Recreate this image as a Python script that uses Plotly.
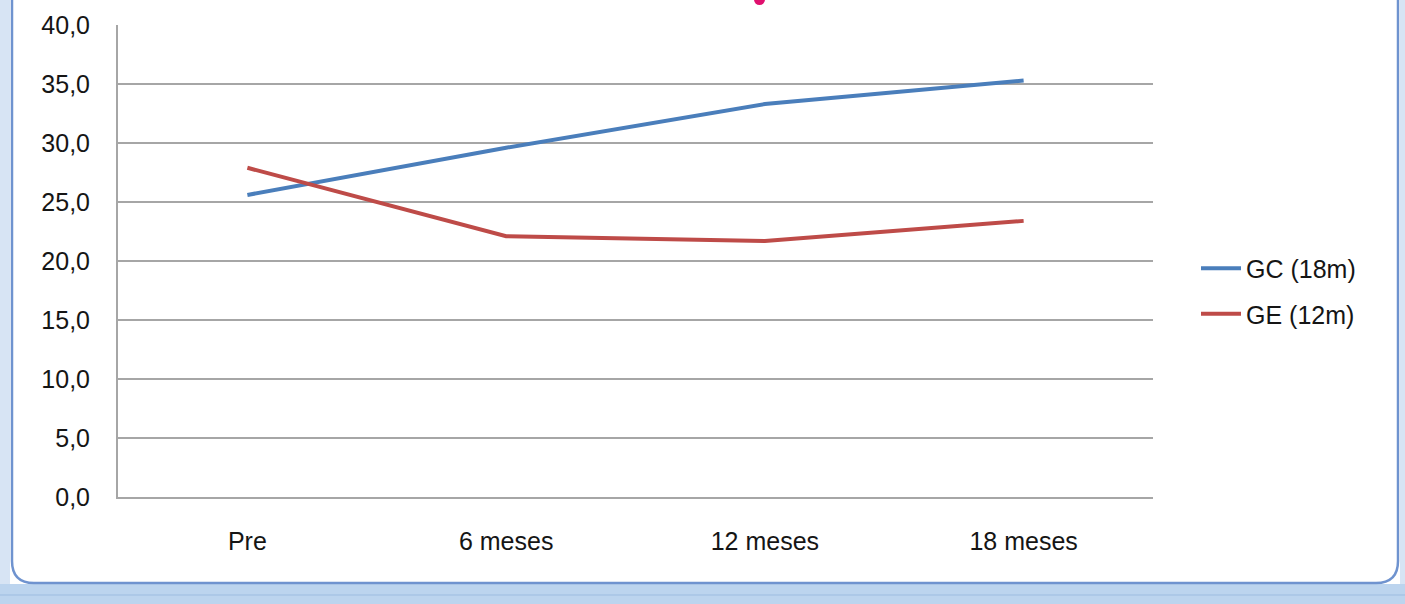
import plotly.graph_objects as go

categories = ["Pre", "6 meses", "12 meses", "18 meses"]
gc_values = [25.6, 29.6, 33.3, 35.3]
ge_values = [27.9, 22.1, 21.7, 23.4]
series_names = ["GC (18m)", "GE (12m)"]
y_ticks = [0, 5, 10, 15, 20, 25, 30, 35, 40]

W, H = 1405, 604
L, R, T, B = 118, 1153, 25, 497

def px(x):
    return (x - L) / (R - L)

def py(y):
    return (B - y) / (B - T)

fig = go.Figure()
fig.add_trace(go.Scatter(x=categories, y=gc_values, mode="lines", name=series_names[0],
                         legendgroup="a", line=dict(color="#4A7EBB", width=4)))
fig.add_trace(go.Scatter(x=categories, y=ge_values, mode="lines", name=series_names[1],
                         legendgroup="b", line=dict(color="#BE4B48", width=4)))

shapes = []
shapes.append(dict(type="rect", xref="paper", yref="paper", x0=px(-5), x1=px(W + 5),
                   y0=py(H + 5), y1=py(584), fillcolor="#BCD4EE", line=dict(width=0), layer="below"))
shapes.append(dict(type="line", xref="paper", yref="paper", x0=px(0), x1=px(W),
                   y0=py(595), y1=py(595), line=dict(color="#9DBCE0", width=1), layer="below"))
x0, x1, y0, y1, r = 12, 1398, -20, 583, 22
path = (f"M {px(x0)},{py(y0)} L {px(x0)},{py(y1 - r)} "
        f"Q {px(x0)},{py(y1)} {px(x0 + r)},{py(y1)} "
        f"L {px(x1 - r)},{py(y1)} Q {px(x1)},{py(y1)} {px(x1)},{py(y1 - r)} "
        f"L {px(x1)},{py(y0)}")
shapes.append(dict(type="path", xref="paper", yref="paper", path=path,
                   line=dict(color="#6F93CF", width=2.5), layer="below"))
shapes.append(dict(type="rect", xref="paper", yref="paper", x0=px(0), x1=px(10),
                   y0=py(584), y1=py(-5), fillcolor="#D7E4F4", line=dict(width=0), layer="below"))
shapes.append(dict(type="rect", xref="paper", yref="paper", x0=px(1400), x1=px(W + 5),
                   y0=py(584), y1=py(-5), fillcolor="#D7E4F4", line=dict(width=0), layer="below"))
shapes.append(dict(type="circle", xref="paper", yref="paper", x0=px(754), x1=px(765),
                   y0=py(5), y1=py(-6), fillcolor="#E0106E", line=dict(width=0)))

fig.update_layout(
    width=W, height=H,
    margin=dict(l=L, r=W - R, t=T, b=H - B),
    paper_bgcolor="white", plot_bgcolor="white",
    font=dict(family="Liberation Sans, Arial, sans-serif", size=25, color="#151515"),
    separators=",.",
    showlegend=True,
    legend=dict(x=px(1196), y=py(291), xanchor="left", yanchor="middle",
                font=dict(size=25, color="#151515"), itemwidth=40,
                traceorder="grouped", tracegroupgap=10, bgcolor="rgba(0,0,0,0)"),
    shapes=shapes,
)
fig.update_xaxes(range=[-0.5, 3.5], showgrid=False, showline=True, linecolor="#A6A6A6",
                 linewidth=2, ticks="", ticklabelstandoff=21, zeroline=False, fixedrange=True)
fig.update_yaxes(range=[0, 40], tickvals=y_ticks, tickformat=".1f", showgrid=True,
                 gridcolor="#A6A6A6", gridwidth=2, showline=True, linecolor="#A6A6A6",
                 linewidth=2, ticks="", ticklabelstandoff=21, zeroline=False, fixedrange=True)

fig.write_html("out.html")
